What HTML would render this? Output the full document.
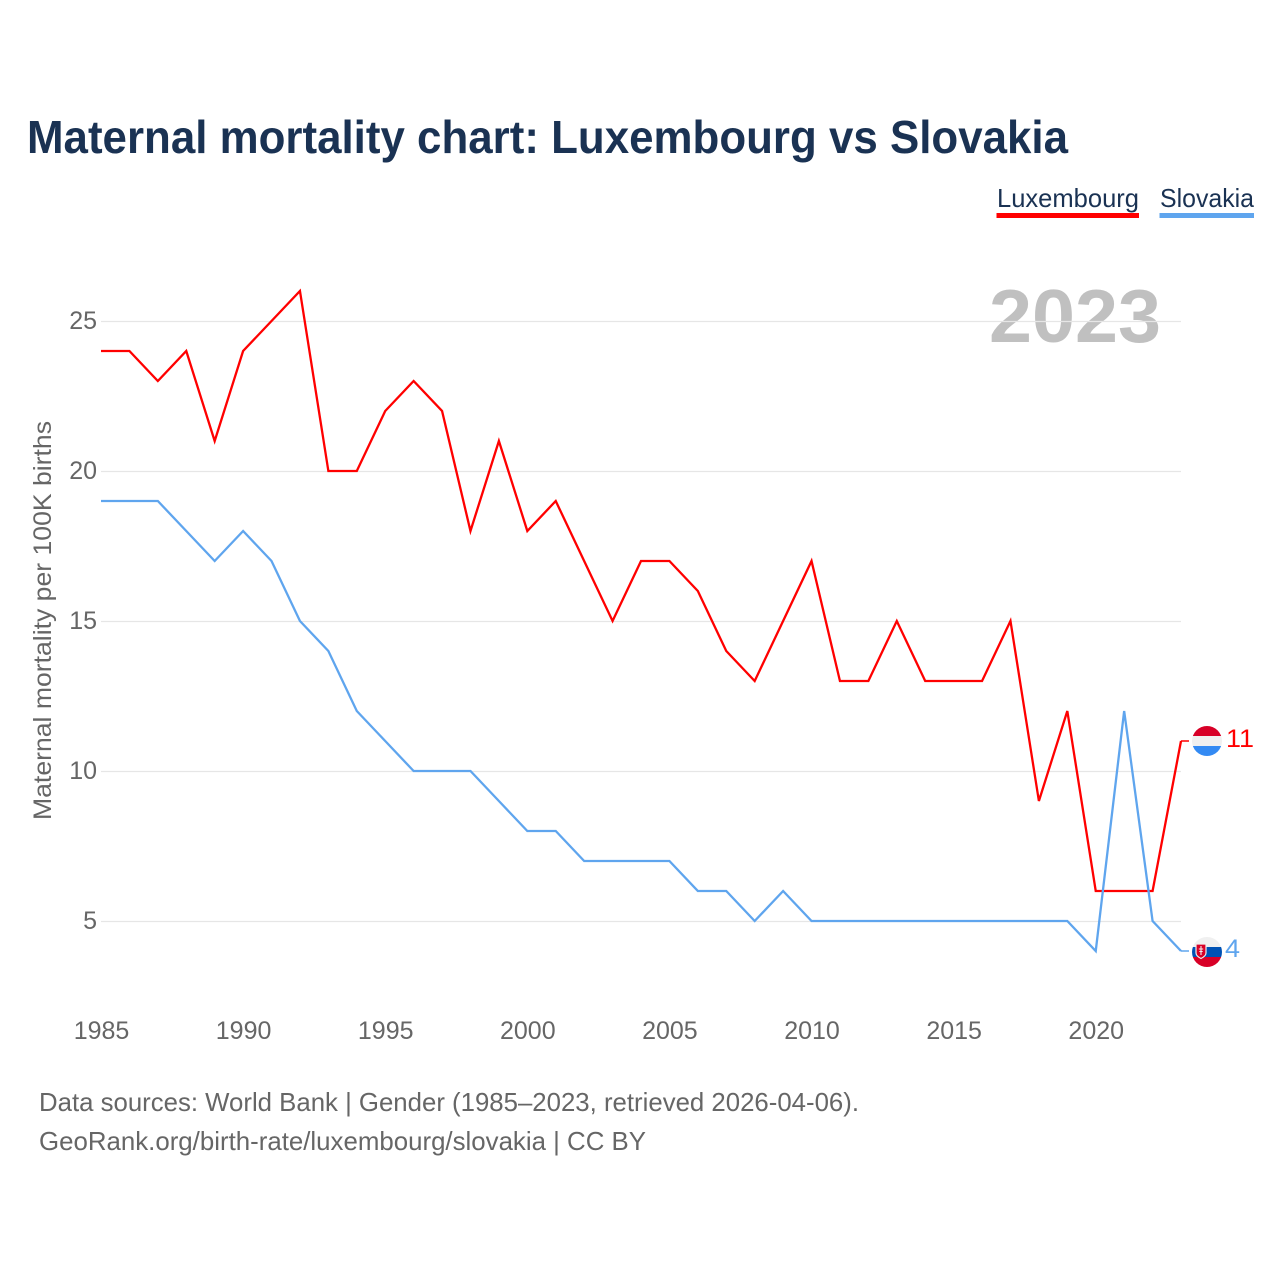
<!DOCTYPE html>
<html lang="en">
<head>
<meta charset="utf-8">
<title>Maternal mortality chart: Luxembourg vs Slovakia</title>
<style>
html,body{margin:0;padding:0;background:#fff;width:1280px;height:1280px;overflow:hidden}
svg{display:block}
text{font-family:"Liberation Sans",sans-serif}
</style>
</head>
<body>
<svg id="chart" xmlns="http://www.w3.org/2000/svg" width="1280" height="1280" viewBox="0 0 1280 1280">
  <defs>
    <clipPath id="lu-clip"><circle cx="1207" cy="741" r="15"/></clipPath>
    <clipPath id="sk-clip"><circle cx="1207" cy="952" r="15"/></clipPath>
  </defs>
  <text x="27" y="153" font-size="46" font-weight="700" fill="#1a3253" textLength="1041" lengthAdjust="spacingAndGlyphs">Maternal mortality chart: Luxembourg vs Slovakia</text>

  <g>
    <g>
      <text x="997" y="207" font-size="26" fill="#1a3253" textLength="142" lengthAdjust="spacingAndGlyphs">Luxembourg</text>
      <rect x="996.500" y="213" width="142.500" height="5" fill="#ff0000"/>
    </g>
    <g>
      <text x="1160" y="207" font-size="26" fill="#1a3253" textLength="94" lengthAdjust="spacingAndGlyphs">Slovakia</text>
      <rect x="1159.500" y="213" width="94.500" height="5" fill="#5fa5ee"/>
    </g>
  </g>

  <text x="989" y="342" font-size="75" font-weight="700" fill="#c0c0c0" textLength="172" lengthAdjust="spacingAndGlyphs">2023</text>

  <g id="grid"></g>
  <g id="y-ticks"></g>
  <g id="x-ticks"></g>

  <text transform="translate(51,820) rotate(-90)" x="0" y="0" font-size="25" fill="#666666" textLength="399" lengthAdjust="spacingAndGlyphs">Maternal mortality per 100K births</text>

  <path id="line-luxembourg" fill="none" stroke="#ff0000" stroke-width="2.300" stroke-linejoin="miter"/>
  <path id="line-slovakia" fill="none" stroke="#5fa5ee" stroke-width="2.300" stroke-linejoin="miter"/>
  <path id="lead-luxembourg" fill="none" stroke="#ff0000" stroke-width="1.500"/>
  <path id="lead-slovakia" fill="none" stroke="#5fa5ee" stroke-width="1.500"/>

  <g clip-path="url(#lu-clip)">
    <rect x="1192" y="726" width="30" height="10" fill="#d80027"/>
    <rect x="1192" y="736" width="30" height="10" fill="#f0f0f0"/>
    <rect x="1192" y="746" width="30" height="10" fill="#338af3"/>
  </g>
  <g clip-path="url(#sk-clip)">
    <rect x="1192" y="937" width="30" height="10" fill="#f0f0f0"/>
    <rect x="1192" y="947" width="30" height="10" fill="#0052b4"/>
    <rect x="1192" y="957" width="30" height="10" fill="#d80027"/>
    <path d="M1196 944h10v9c0 3-3 4.500-5 5.500c-2-1-5-2.500-5-5.500z" fill="#d80027" stroke="#f0f0f0" stroke-width="1.200"/>
    <path d="M1201 946v9M1198.800 949h4.400M1199.300 951.500h3.400" stroke="#f0f0f0" stroke-width="1.100" fill="none"/>
  </g>

  <text id="value-luxembourg" x="1226" y="747" font-size="25" fill="#ff0000" textLength="28" lengthAdjust="spacingAndGlyphs"></text>
  <text id="value-slovakia" x="1225" y="957" font-size="25" fill="#5fa5ee" textLength="15" lengthAdjust="spacingAndGlyphs"></text>

  <text x="39" y="1111" font-size="26" fill="#666666" textLength="820" lengthAdjust="spacingAndGlyphs">Data sources: World Bank | Gender (1985–2023, retrieved 2026-04-06).</text>
  <text x="39" y="1150" font-size="26" fill="#666666" textLength="607" lengthAdjust="spacingAndGlyphs">GeoRank.org/birth-rate/luxembourg/slovakia | CC BY</text>
</svg>
<script>
const years = [1985,1986,1987,1988,1989,1990,1991,1992,1993,1994,1995,1996,1997,1998,1999,2000,2001,2002,2003,2004,2005,2006,2007,2008,2009,2010,2011,2012,2013,2014,2015,2016,2017,2018,2019,2020,2021,2022,2023];
const luxembourg = [24,24,23,24,21,24,25,26,20,20,22,23,22,18,21,18,19,17,15,17,17,16,14,13,15,17,13,13,15,13,13,13,15,9,12,6,6,6,11];
const slovakia = [19,19,19,18,17,18,17,15,14,12,11,10,10,10,9,8,8,7,7,7,7,6,6,5,6,5,5,5,5,5,5,5,5,5,5,4,12,5,4];
const yTickLabels = [5,10,15,20,25];
const xTickLabels = [1985,1990,1995,2000,2005,2010,2015,2020];

const NS = 'http://www.w3.org/2000/svg';
const xScale = function (year) { return 101 + (year - 1985) * (1080 / 38); };
const yScale = function (value) { return 1071 - value * 30; };

const gridGroup = document.getElementById('grid');
const yTickGroup = document.getElementById('y-ticks');
const xTickGroup = document.getElementById('x-ticks');

yTickLabels.forEach(function (tick) {
  const line = document.createElementNS(NS, 'line');
  
  
  line.setAttribute('x1', xScale(1985));
  line.setAttribute('x2', xScale(2023));
  line.setAttribute('y1', yScale(tick) + 0.5);
  line.setAttribute('y2', yScale(tick) + 0.5);
  line.setAttribute('stroke', '#e6e6e6');
  line.setAttribute('stroke-width', '1.200');
  gridGroup.appendChild(line);

  const label = document.createElementNS(NS, 'text');
  
  
  label.setAttribute('x', 97);
  label.setAttribute('y', yScale(tick) + 8);
  label.setAttribute('text-anchor', 'end');
  label.setAttribute('font-size', '25');
  label.setAttribute('fill', '#666666');
  label.textContent = tick;
  yTickGroup.appendChild(label);
});

xTickLabels.forEach(function (tick) {
  const label = document.createElementNS(NS, 'text');
  
  
  label.setAttribute('x', xScale(tick) + 0.5);
  label.setAttribute('y', 1039);
  label.setAttribute('text-anchor', 'middle');
  label.setAttribute('font-size', '25');
  label.setAttribute('fill', '#666666');
  label.textContent = tick;
  xTickGroup.appendChild(label);
});

function linePath(values) {
  return values.map(function (v, i) {
    return (i ? 'L' : 'M') + xScale(years[i]).toFixed(2) + ' ' + yScale(v).toFixed(2);
  }).join('');
}
function leaderPath(values) {
  const last = values[values.length - 1];
  const x = xScale(years[years.length - 1]);
  return 'M' + x.toFixed(2) + ' ' + yScale(last).toFixed(2) + 'H' + (x + 8).toFixed(2);
}

document.getElementById('line-luxembourg').setAttribute('d', linePath(luxembourg));
document.getElementById('line-slovakia').setAttribute('d', linePath(slovakia));
document.getElementById('lead-luxembourg').setAttribute('d', leaderPath(luxembourg));
document.getElementById('lead-slovakia').setAttribute('d', leaderPath(slovakia));
document.getElementById('value-luxembourg').textContent = luxembourg[luxembourg.length - 1];
document.getElementById('value-slovakia').textContent = slovakia[slovakia.length - 1];
</script>
</body>
</html>
